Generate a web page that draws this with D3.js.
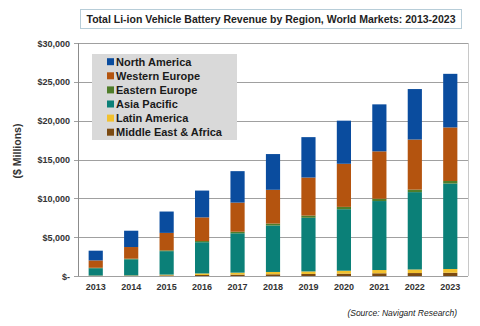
<!DOCTYPE html>
<meta charset="utf-8">
<script src="https://d3js.org/d3.v7.min.js"></script>
<style>
  body { margin: 0; background: #fff; }
  text { font-family: Arial, "Liberation Sans", sans-serif; }
</style>
<div id="chart"></div>
<script>

  // years along the x axis
  var years = ["2013", "2014", "2015", "2016", "2017", "2018", "2019", "2020", "2021", "2022", "2023"];

  // revenue per region, $ millions
  var middleEastAfrica = [30, 40, 80, 130, 180, 220, 260, 300, 350, 380, 420];
  var latinAmerica     = [30, 40, 100, 200, 250, 300, 330, 380, 420, 460, 480];
  var asiaPacific      = [940, 2070, 3020, 4020, 5070, 5980, 6910, 7920, 8880, 9960, 11000];
  var easternEurope    = [60, 80, 100, 150, 200, 250, 280, 300, 300, 320, 330];
  var westernEurope    = [950, 1500, 2250, 3050, 3750, 4350, 4900, 5550, 6100, 6450, 6900];
  var northAmerica     = [1250, 2100, 2750, 3450, 4050, 4600, 5200, 5550, 6050, 6500, 6900];

  var yTicks = [0, 5000, 10000, 15000, 20000, 25000, 30000];

  // stacking order, bottom to top
  var series = [
    {name: "Middle East & Africa", values: middleEastAfrica, color: "#7b4a12"},
    {name: "Latin America",        values: latinAmerica,     color: "#f2c12e"},
    {name: "Asia Pacific",         values: asiaPacific,      color: "#0b8078"},
    {name: "Eastern Europe",       values: easternEurope,    color: "#4f7d2a"},
    {name: "Western Europe",       values: westernEurope,    color: "#b4540f"},
    {name: "North America",        values: northAmerica,     color: "#0a4c9e"}
  ];

  var W = 480, H = 326;
  var margin = {top: 43, right: 12, bottom: 50, left: 78};
  var width = W - margin.left - margin.right,
      height = H - margin.top - margin.bottom;

  var svg = d3.select("#chart").append("svg")
    .attr("width", W)
    .attr("height", H);

  // title in a thin box
  svg.append("rect")
    .attr("x", 80.5).attr("y", 9.5)
    .attr("width", 381).attr("height", 19)
    .attr("fill", "#fff")
    .attr("stroke", "#b7cdd8");
  svg.append("text")
    .attr("x", 271).attr("y", 23)
    .attr("text-anchor", "middle")
    .style("font-size", "10.5px")
    .style("font-weight", "bold")
    .attr("fill", "#222")
    .text("Total Li-ion Vehicle Battery Revenue by Region, World Markets: 2013-2023");

  var g = svg.append("g")
    .attr("transform", "translate(" + margin.left + "," + margin.top + ")");

  var x = d3.scaleBand()
    .domain(years)
    .range([0, width])
    .paddingInner(0.6)
    .paddingOuter(0.3);

  var y = d3.scaleLinear()
    .domain([0, 30000])
    .range([height, 0]);

  // gridlines
  g.append("g")
    .selectAll("line")
    .data(yTicks)
    .enter().append("line")
      .attr("x1", -4).attr("x2", width)
      .attr("y1", function(d) { return Math.round(y(d)) + 0.5; })
      .attr("y2", function(d) { return Math.round(y(d)) + 0.5; })
      .attr("stroke", "#a0a0a0")
      .attr("stroke-width", 1);

  // right border of plot area
  g.append("line")
    .attr("x1", width + 0.5).attr("x2", width + 0.5)
    .attr("y1", 0).attr("y2", height)
    .attr("stroke", "#c8c8c8");

  // stacked bars
  var table = years.map(function(yr, i) {
    var row = {year: yr};
    series.forEach(function(s) { row[s.name] = s.values[i]; });
    return row;
  });
  var stack = d3.stack().keys(series.map(function(s) { return s.name; }))(table);

  g.selectAll(".layer")
    .data(stack)
    .enter().append("g")
      .attr("class", "layer")
      .attr("fill", function(d, i) { return series[i].color; })
    .selectAll("rect")
    .data(function(d) { return d; })
    .enter().append("rect")
      .attr("x", function(d) { return x(d.data.year); })
      .attr("width", x.bandwidth())
      .attr("y", function(d) { return y(d[1]); })
      .attr("height", function(d) { return y(d[0]) - y(d[1]); });

  // y axis line
  g.append("line")
    .attr("x1", 0.5).attr("x2", 0.5)
    .attr("y1", 0).attr("y2", height)
    .attr("stroke", "#8c8c8c");

  // y tick labels
  var fmt = d3.format(",");
  g.append("g")
    .selectAll("text")
    .data(yTicks)
    .enter().append("text")
      .attr("x", -8)
      .attr("y", function(d) { return y(d) + 3.5; })
      .attr("text-anchor", "end")
      .style("font-size", "9px")
      .style("font-weight", "bold")
      .attr("fill", "#333")
      .text(function(d) { return d === 0 ? "$-" : "$" + fmt(d); });

  // x tick labels
  g.append("g")
    .selectAll("text")
    .data(years)
    .enter().append("text")
      .attr("x", function(d) { return x(d) + x.bandwidth() / 2; })
      .attr("y", height + 14)
      .attr("text-anchor", "middle")
      .style("font-size", "9px")
      .style("font-weight", "bold")
      .attr("fill", "#333")
      .text(function(d) { return d; });

  // y axis title
  svg.append("text")
    .attr("transform", "translate(21,151) rotate(-90)")
    .attr("text-anchor", "middle")
    .style("font-size", "10.5px")
    .style("font-weight", "bold")
    .attr("fill", "#333")
    .text("($ Millions)");

  // legend, North America first
  var legend = svg.append("g");
  legend.append("rect")
    .attr("x", 92).attr("y", 54)
    .attr("width", 145).attr("height", 86)
    .attr("fill", "#d9d9d9");
  var items = series.slice().reverse();
  var entry = legend.selectAll(".entry")
    .data(items)
    .enter().append("g")
      .attr("class", "entry")
      .attr("transform", function(d, i) { return "translate(107," + (61.7 + i * 14.1) + ")"; });
  entry.append("rect")
    .attr("x", 0).attr("y", -3.5)
    .attr("width", 7).attr("height", 7)
    .attr("fill", function(d) { return d.color; });
  entry.append("text")
    .attr("x", 9).attr("y", 4)
    .style("font-size", "11px")
    .style("font-weight", "bold")
    .attr("fill", "#1a1a1a")
    .text(function(d) { return d.name; });

  // source note
  svg.append("text")
    .attr("x", 457).attr("y", 316)
    .attr("text-anchor", "end")
    .style("font-size", "8.5px")
    .style("font-style", "italic")
    .attr("fill", "#222")
    .text("(Source: Navigant Research)");

</script>
